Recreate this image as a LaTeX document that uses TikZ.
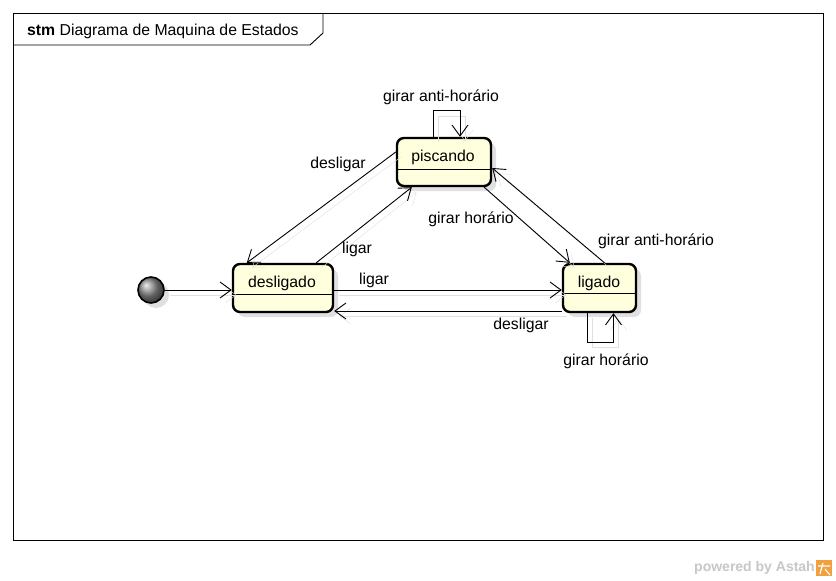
\documentclass[tikz,border=0pt]{standalone}
\usepackage{fontspec}
\setmainfont{Liberation Sans}
\usetikzlibrary{arrows.meta,shadows,calc}
\definecolor{stfill}{RGB}{255,255,221}
\definecolor{shad}{RGB}{224,224,224}
\definecolor{astah}{RGB}{240,160,60}
\begin{document}
\begin{tikzpicture}[x=1pt,y=-1pt,
  every node/.style={font=\fontsize{15.8}{18}\selectfont, inner sep=0pt},
  statebox/.style={draw, line width=2.4pt, rounded corners=7pt, fill=stfill,
    drop shadow={shadow xshift=5pt, shadow yshift=-5pt, fill=black, opacity=.12}},
  tr/.style={draw=black, line width=0.9pt, -{Straight Barb[length=11pt,width=16pt,line width=0.9pt]},
    preaction={draw=shad, transform canvas={shift={(5pt,-5pt)}}}},
  lbl/.style={text=black}]
\useasboundingbox (0,0) rectangle (836,581);
\fill[white] (0,0) rectangle (836,581);
% frame
\draw[line width=0.9pt] (13,13) rectangle (823,540);
\draw[line width=0.9pt] (13,45) -- (310,45) -- (323,33) -- (323,13);
\node[anchor=west] (title) at (27,31) {\textbf{stm} Diagrama de Maquina de Estados};
% states
\node[statebox, minimum width=94pt, minimum height=48pt] (pisc) at (444,162) {};
\node[statebox, minimum width=100pt, minimum height=48pt] (desl) at (283,288) {};
\node[statebox, minimum width=73pt, minimum height=48pt] (lig) at (599.5,288) {};
\draw[line width=0.9pt] ([yshift=-7]pisc.west) -- ([yshift=-7]pisc.east);
\draw[line width=0.9pt] ([yshift=-6]desl.west) -- ([yshift=-6]desl.east);
\draw[line width=0.9pt] ([yshift=-5]lig.west) -- ([yshift=-5]lig.east);
\node (pisct) at (443,157) {piscando};
\node (deslt) at (282,283) {desligado};
\node (ligt) at (599,283) {ligado};
% initial
\fill[black, opacity=.12] (156,295) circle (13);
\node[circle, draw, line width=1.6pt, minimum size=26pt, shading=ball, ball color=gray!90] (init) at (151,290) {};
% transitions
\draw[tr] (init.east) -- (init.east -| desl.west);
\draw[tr] ([yshift=-2]desl.east) -- ([yshift=-2]desl.east -| lig.west);
\draw[tr] ([yshift=-23]lig.west) -- ([yshift=-23]lig.west -| desl.east);
\draw[tr] ([yshift=10]pisc.west) -- ([xshift=15]desl.north west);
\draw[tr] ([xshift=-18]desl.north east) -- ([xshift=16]pisc.south west);
\draw[tr] ([xshift=-8]pisc.south east) -- ([xshift=8]lig.north west);
\draw[tr] ([xshift=5]lig.north) -- ([yshift=-6]pisc.east);
\draw[tr] ([xshift=-11]pisc.north) -- ++(0,-26) -| ([xshift=16]pisc.north);
\draw[tr] ([xshift=-12]lig.south) -- ++(0,29) -| ([xshift=14]lig.south);
% labels
\node[lbl] (l1) at (441,97) {girar anti-horário};
\node[lbl] (l2) at (338,164) {desligar};
\node[lbl] (l3) at (357,249) {ligar};
\node[lbl] (l4) at (471,219) {girar horário};
\node[lbl] (l5) at (656,241) {girar anti-horário};
\node[lbl] (l6) at (374,280) {ligar};
\node[lbl] (l7) at (521,325) {desligar};
\node[lbl] (l8) at (606,361) {girar horário};
% footer
\node[anchor=east, text=black!22, font=\fontsize{14}{16}\selectfont\bfseries] (pw) at (815,568) {powered by Astah};
\fill[astah] (816,560) rectangle (832,576);
\draw[white, line width=1.2pt] (818,566) -- (830,566) (823,563) -- (820,574) (825,569) -- (830,575);
\end{tikzpicture}
\end{document}
